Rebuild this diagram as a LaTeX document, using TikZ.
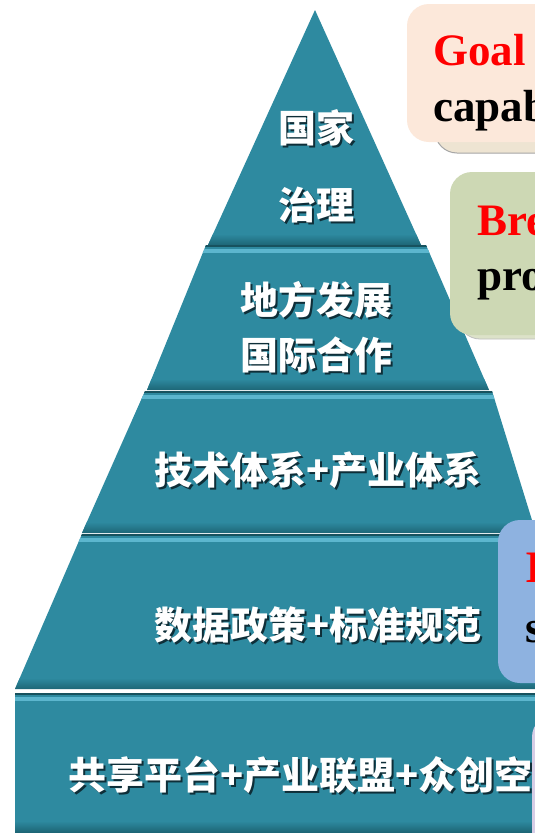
\documentclass[tikz,border=0pt]{standalone}
\usepackage{fontspec}
\setmainfont{Liberation Serif}
\newfontfamily\cjk{Noto Sans CJK SC}
\definecolor{tealmain}{HTML}{2E8AA0}
\definecolor{teallight}{HTML}{5CB6CE}
\definecolor{tealdark}{HTML}{1D6676}
\definecolor{txtshadow}{HTML}{0E2E38}
\definecolor{peach}{HTML}{FCE8DA}
\definecolor{peachshadow}{HTML}{EEE4D2}
\definecolor{sage}{HTML}{CDD8B4}
\definecolor{sageshadow}{HTML}{DCE2C8}
\definecolor{skyblue}{HTML}{8EB2E0}
\definecolor{lavender}{HTML}{D6CDE6}
\definecolor{boxred}{HTML}{FF0000}
\tikzset{
  layertext/.style={font=\cjk\bfseries\fontsize{38}{46}\selectfont, text=white, inner sep=0pt},
  layershadow/.style={font=\cjk\bfseries\fontsize{38}{46}\selectfont, text=txtshadow, inner sep=0pt},
  boxtext/.style={font=\bfseries\fontsize{45}{54}\selectfont, anchor=base west, inner sep=0pt},
  callout/.style={rounded corners=22pt},
}
\newcommand{\layerfill}[3]{%
  \fill[tealmain] (0,#1) rectangle (600,#2);
  \fill[teallight] (0,#1+4) rectangle (600,#1+8);
  \shade[top color=tealmain, bottom color=tealdark] (0,#2-11) rectangle (600,#2);
  \fill[tealdark!80!black] (0,#1) rectangle (600,#1+1.5);
}
\newcommand{\layerlabel}[4]{%
  \node[layershadow] (#1s) at ([shift={(2,2)}]#2) {#3};
  \node[layertext] (#1) at (#2) {#3};
}
\begin{document}
\begin{tikzpicture}[x=1pt,y=-1pt]
\useasboundingbox (0,0) rectangle (535,833);
\clip (0,0) rectangle (535,833);
\fill[white] (0,0) rectangle (535,833);

% layer 1
\begin{scope}
  \clip (315,10) -- (421,245) -- (208,245) -- cycle;
  \fill[tealmain] (0,0) rectangle (600,245);
  \shade[top color=tealmain, bottom color=tealdark] (0,234) rectangle (600,245);
\end{scope}
% layer 2
\begin{scope}
  \clip (206,245) -- (426,245) -- (489,390) -- (147,390) -- cycle;
  \layerfill{245}{390}{}
\end{scope}
% layer 3
\begin{scope}
  \clip (145,391) -- (492,391) -- (536,533) -- (82,533) -- cycle;
  \layerfill{391}{533}{}
\end{scope}
% layer 4
\begin{scope}
  \clip (82,534) -- (600,534) -- (600,689) -- (15,689) -- cycle;
  \layerfill{534}{689}{}
\end{scope}
% layer 5
\begin{scope}
  \clip (15,693) rectangle (600,832);
  \layerfill{693}{832}{}
\end{scope}

% labels
\coordinate (p1a) at (316,128);
\coordinate (p1b) at (316,205);
\coordinate (p2a) at (316,300);
\coordinate (p2b) at (316,355);
\coordinate (p3) at (318,470);
\coordinate (p4) at (318,625);
\layerlabel{l1a}{p1a}{国家}{}
\layerlabel{l1b}{p1b}{治理}{}
\layerlabel{l2a}{p2a}{地方发展}{}
\layerlabel{l2b}{p2b}{国际合作}{}
\layerlabel{l3}{p3}{技术体系+产业体系}{}
\layerlabel{l4}{p4}{数据政策+标准规范}{}
\node[layershadow, anchor=west] (l5s) at (70,777) {共享平台+产业联盟+众创空};
\node[layertext, anchor=west] (l5) at (68,775) {共享平台+产业联盟+众创空};

% callout boxes
\draw[callout, fill=peachshadow, draw=black!35, line width=1pt] (435,20) rectangle (620,153);
\fill[callout, fill=peach] (407,4) rectangle (620,142);
\node[boxtext, text=boxred] (g1) at (433,65) {Goal};
\node[boxtext, text=black] (g2) at (433,121) {capab};

\draw[callout, fill=sageshadow, draw=black!25, line width=0.8pt] (458,190) rectangle (620,339);
\fill[callout, fill=sage] (450,172) rectangle (620,335);
\node[boxtext, text=boxred] (b1) at (477,235) {Bre};
\node[boxtext, text=black] (b2) at (477,290) {pro};

\fill[callout, fill=skyblue] (498,520) rectangle (620,683);
\node[boxtext, text=boxred] (i1) at (525,582) {I};
\node[boxtext, text=black] (i2) at (525,642) {s};

\fill[callout, fill=lavender] (532,715) rectangle (620,860);
\end{tikzpicture}
\end{document}
